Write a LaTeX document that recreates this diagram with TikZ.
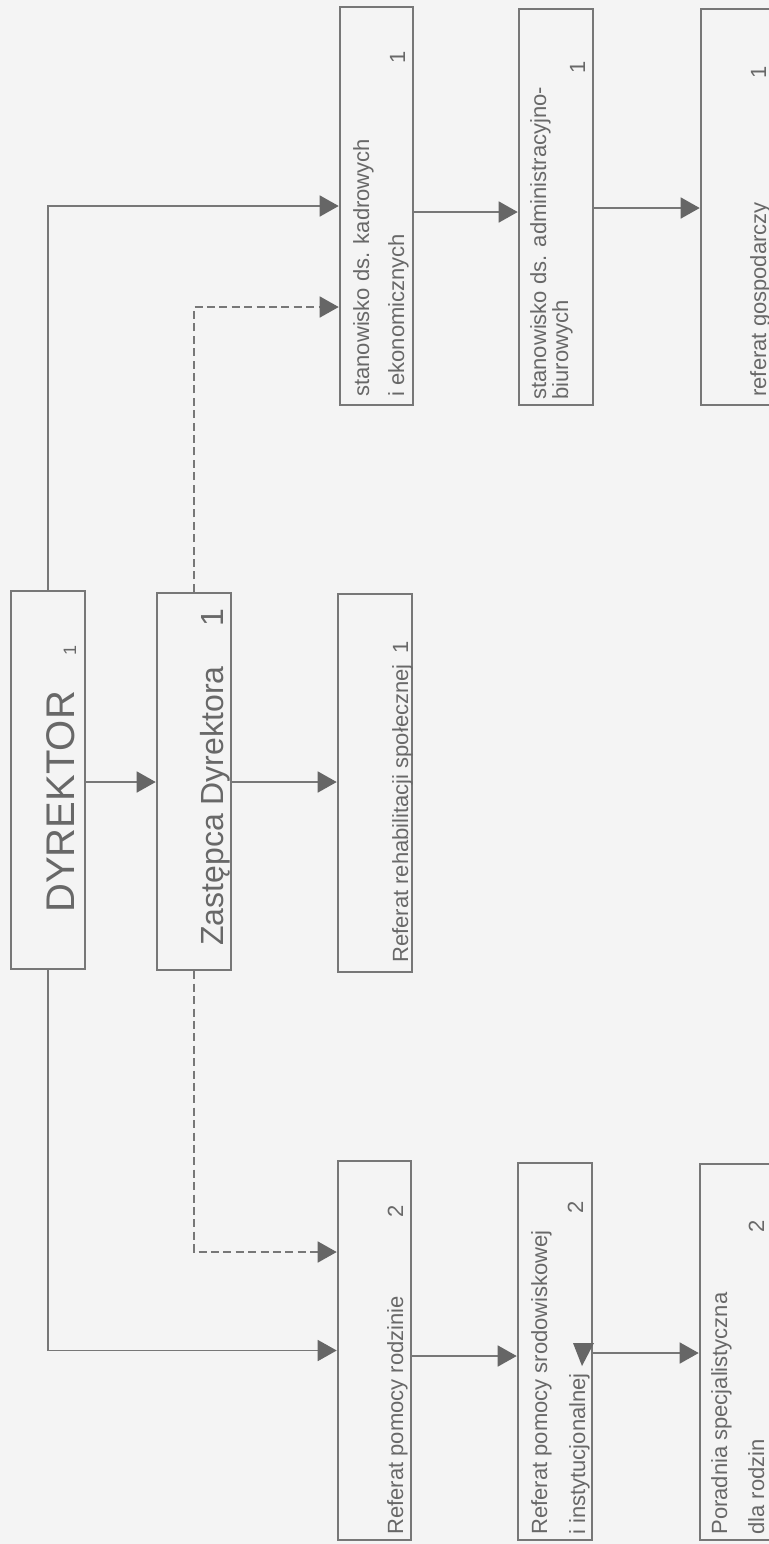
\documentclass[tikz,border=0pt]{standalone}
\usepackage{fontspec}
\setmainfont{Liberation Sans}
\usetikzlibrary{arrows.meta}
\definecolor{bg}{HTML}{F4F4F4}
\definecolor{ln}{HTML}{777777}
\definecolor{tx}{HTML}{686868}
\definecolor{ah}{HTML}{666666}
\begin{document}
\begin{tikzpicture}[x=0.5pt,y=-0.5pt,
 box/.style={draw=ln,line width=1.3pt,rectangle,inner sep=0pt},
 conn/.style={draw=ln,line width=0.8pt},
 arr/.style={conn,-{Triangle[length=9.5pt,width=10.5pt,fill=ah,color=ah]}},
 dsh/.style={dash pattern=on 4pt off 2.2pt},
 lbl/.style={rotate=90,anchor=base west,inner sep=0pt,text=tx,font=\fontsize{11}{13}\selectfont},
]
\useasboundingbox (0,0) rectangle (769,1544);
\fill[bg] (0,0) rectangle (769,1544);
\clip (0,0) rectangle (769,1544);

% boxes
\node[box,minimum width=37pt,minimum height=189pt] (dyr) at (48,780) {};
\node[box,minimum width=37pt,minimum height=188.5pt] (zas) at (194,781.5) {};
\node[box,minimum width=37pt,minimum height=189pt] (reh) at (375,783) {};
\node[box,minimum width=36.5pt,minimum height=199pt] (kad) at (376.5,206) {};
\node[box,minimum width=37pt,minimum height=198pt] (adm) at (556,207) {};
\node[box,minimum width=37pt,minimum height=198pt] (gos) at (738,207) {};
\node[box,minimum width=36.5pt,minimum height=189.5pt] (rod) at (374.5,1350.5) {};
\node[box,minimum width=37pt,minimum height=188.5pt] (sro) at (555,1351.5) {};
\node[box,minimum width=37pt,minimum height=188pt] (por) at (737,1352) {};

% connectors
\draw[arr] (dyr.north) |- (kad.west);
\draw[arr,dsh] (zas.north) |- ([yshift=-50.5pt]kad.west);
\draw[arr] ([yshift=-1pt]dyr.east) -- ([yshift=-1pt]dyr.east -| zas.west);
\draw[arr] ([yshift=-0.25pt]zas.east) -- ([yshift=-0.25pt]zas.east -| reh.west);
\draw[arr,dsh] (zas.south) |- ([yshift=49.25pt]rod.west);
\draw[arr] (dyr.south) |- (rod.west);
\draw[arr] ([yshift=-3pt]kad.east) -- ([yshift=-3pt]kad.east -| adm.west);
\draw[arr] ([yshift=-0.5pt]adm.east) -- ([yshift=-0.5pt]adm.east -| gos.west);
\draw[arr] ([yshift=-2.75pt]rod.east) -- ([yshift=-2.75pt]rod.east -| sro.west);
\draw[arr] ([yshift=-0.75pt]sro.east) -- ([yshift=-0.75pt]sro.east -| por.west);
\fill[ah] (573,1343) -- (594,1343) -- (582,1366) -- cycle;

% texts
\node[lbl,font=\fontsize{20}{24}\selectfont] (tdyr) at (74,913) {DYREKTOR};
\node[lbl,font=\fontsize{9}{11}\selectfont] (ndyr) at (76,656) {1};
\node[lbl,font=\fontsize{16}{19}\selectfont] (tzas) at (223,946) {Zastępca Dyrektora};
\node[lbl,font=\fontsize{16}{19}\selectfont] (nzas) at (223,627) {1};
\node[lbl] (treh) at (408,963) {Referat rehabilitacji społecznej};
\node[lbl] (nreh) at (408,654) {1};
\node[lbl] (tkad1) at (369,397) {stanowisko ds. kadrowych};
\node[lbl] (tkad2) at (404,397) {i ekonomicznych};
\node[lbl] (nkad) at (405,64) {1};
\node[lbl] (tadm1) at (546,400) {stanowisko ds. administracyjno-};
\node[lbl] (tadm2) at (568,400) {biurowych};
\node[lbl] (nadm) at (585,74) {1};
\node[lbl] (tgos) at (766,397) {referat gospodarczy};
\node[lbl] (ngos) at (766,79) {1};
\node[lbl] (trod) at (403,1535) {Referat pomocy rodzinie};
\node[lbl] (nrod) at (403,1218) {2};
\node[lbl] (tsro1) at (547,1535) {Referat pomocy srodowiskowej};
\node[lbl] (tsro2) at (585,1535) {i instytucjonalnej};
\node[lbl] (nsro) at (583,1214) {2};
\node[lbl] (tpor1) at (727,1535) {Poradnia specjalistyczna};
\node[lbl] (tpor2) at (764,1535) {dla rodzin};
\node[lbl] (npor) at (764,1233) {2};
\end{tikzpicture}
\end{document}
